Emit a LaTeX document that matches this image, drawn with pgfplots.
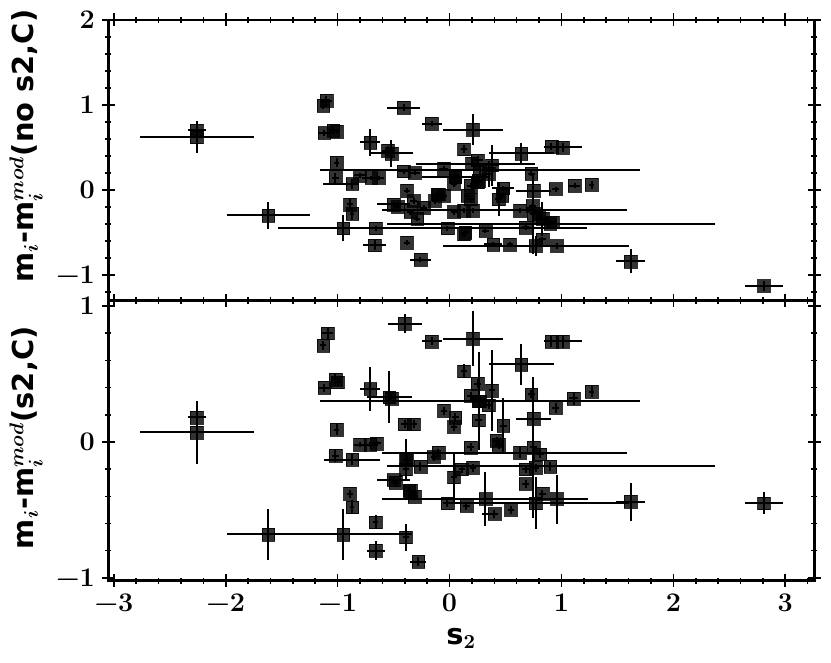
\documentclass[border=0pt]{standalone}
\usepackage[no-math]{fontspec}
\newfontfamily\dv{DejaVu Sans}
\usepackage{pgfplots}
\usepackage{pgfplotstable}
\pgfplotsset{compat=1.18}

\pgfplotstableread{
x y exm exp ey
-2.26 0.70 0.08 0.08 0.05
-2.26 0.62 0.51 0.51 0.19
-1.62 -0.30 0.37 0.37 0.16
-1.13 0.99 0.03 0.03 0.04
-1.10 1.05 0.05 0.05 0.06
-1.12 0.67 0.06 0.06 0.03
-1.04 0.70 0.04 0.04 0.04
-1.01 0.69 0.03 0.03 0.03
-1.01 0.32 0.02 0.02 0.05
-1.02 0.14 0.03 0.03 0.06
-0.87 0.07 0.26 0.06 0.06
-0.80 0.17 0.05 0.05 0.03
-0.70 0.14 0.08 0.08 0.02
-0.63 0.14 0.04 0.04 0.02
-0.41 0.97 0.15 0.15 0.04
-0.16 0.78 0.09 0.09 0.03
-0.71 0.56 0.09 0.09 0.16
-0.55 0.46 0.05 0.05 0.06
-0.52 0.43 0.19 0.19 0.16
0.21 0.71 0.27 0.27 0.18
0.13 0.48 0.03 0.03 0.05
0.64 0.43 0.29 0.29 0.12
0.91 0.51 0.06 0.06 0.04
1.01 0.50 0.17 0.17 0.05
0.25 0.35 0.05 0.05 0.05
0.38 0.29 0.06 0.06 0.24
0.27 0.24 1.43 1.43 0.05
-0.41 0.22 0.05 0.05 0.03
-0.31 0.20 0.05 0.05 0.03
-0.05 0.25 0.04 0.04 0.03
0.05 0.15 0.30 0.30 0.10
-0.38 -0.01 0.03 0.03 0.03
-0.89 -0.17 0.03 0.03 0.07
-0.87 -0.28 0.02 0.02 0.07
-0.95 -0.45 0.08 0.08 0.15
-0.02 -0.45 1.51 1.25 0.03
-0.66 -0.45 0.06 0.06 0.03
-0.67 -0.65 0.10 0.10 0.06
-0.38 -0.62 0.03 0.03 0.03
-0.26 -0.82 0.09 0.09 0.03
-0.50 -0.17 0.15 0.15 0.03
-0.46 -0.20 0.03 0.03 0.03
-0.35 -0.26 0.03 0.03 0.03
-0.29 -0.34 0.03 0.03 0.03
-0.32 -0.13 0.03 0.03 0.03
-0.23 -0.21 0.03 0.03 0.03
-0.11 -0.05 0.03 0.03 0.03
-0.05 -0.07 0.03 0.03 0.03
0.04 0.07 0.03 0.03 0.03
0.04 -0.26 0.03 0.03 0.03
0.13 -0.24 0.03 0.03 0.03
0.16 -0.07 0.03 0.03 0.03
0.13 -0.52 0.03 0.03 0.03
0.77 -0.66 0.83 0.83 0.12
0.90 -0.40 1.46 1.47 0.03
0.63 -0.24 1.23 0.96 0.03
0.95 0.01 0.03 0.03 0.03
1.12 0.05 0.05 0.05 0.03
1.27 0.06 0.02 0.02 0.05
0.75 -0.01 0.16 0.16 0.03
0.75 -0.28 0.03 0.03 0.47
0.19 0.05 0.03 0.03 0.03
0.25 0.09 0.03 0.03 0.03
0.19 -0.11 0.03 0.03 0.03
0.21 -0.24 0.03 0.03 0.03
0.44 -0.11 0.03 0.03 0.20
0.47 -0.07 0.03 0.03 0.03
0.48 0.02 0.10 0.10 0.03
0.74 -0.19 0.03 0.03 0.03
0.80 -0.30 0.03 0.03 0.03
0.83 -0.34 0.03 0.03 0.20
0.92 -0.38 0.03 0.03 0.03
0.68 -0.44 0.03 0.03 0.03
0.14 -0.50 0.03 0.03 0.03
0.32 -0.48 0.03 0.03 0.03
0.39 -0.64 0.08 0.08 0.03
0.54 -0.64 0.03 0.03 0.03
0.83 -0.58 0.03 0.03 0.03
0.96 -0.66 0.10 0.10 0.03
1.62 -0.84 0.13 0.13 0.14
2.81 -1.13 0.17 0.17 0.06
-0.13 -0.13 0.03 0.03 0.03
-0.10 -0.05 0.03 0.03 0.03
0.26 0.11 0.03 0.03 0.03
0.35 0.19 0.03 0.03 0.15
0.73 0.19 0.03 0.03 0.03
0.20 0.31 0.50 0.56 0.03
0.05 0.17 0.03 0.03 0.03
}\toptable

\pgfplotstableread{
x y exm exp ey
-2.26 0.18 0.08 0.08 0.04
-2.26 0.07 0.51 0.51 0.23
-1.62 -0.68 0.37 0.37 0.19
-1.13 0.71 0.03 0.03 0.03
-1.09 0.80 0.05 0.05 0.04
-1.12 0.40 0.05 0.05 0.03
-1.02 0.46 0.04 0.04 0.05
-1.00 0.44 0.03 0.03 0.03
-1.01 0.09 0.02 0.02 0.04
-1.02 -0.10 0.03 0.03 0.05
-0.87 -0.13 0.25 0.25 0.04
-0.80 -0.02 0.05 0.05 0.02
-0.71 -0.02 0.05 0.05 0.02
-0.65 -0.01 0.04 0.04 0.02
-0.89 -0.38 0.03 0.03 0.03
-0.87 -0.48 0.02 0.02 0.05
-0.66 -0.59 0.02 0.02 0.05
-0.95 -0.68 0.61 0.61 0.19
-0.66 -0.80 0.08 0.08 0.07
-0.71 0.39 0.09 0.09 0.16
-0.54 0.33 0.20 0.20 0.19
-0.52 0.32 0.03 0.03 0.03
0.27 0.30 1.43 1.43 0.04
-0.40 0.87 0.15 0.15 0.07
-0.40 0.13 0.03 0.03 0.03
-0.32 0.13 0.03 0.03 0.03
-0.39 -0.13 0.03 0.03 0.15
-0.39 -0.20 0.03 0.03 0.03
-0.50 -0.28 0.15 0.15 0.03
-0.48 -0.30 0.03 0.03 0.03
-0.36 -0.36 0.03 0.03 0.03
-0.31 -0.40 0.03 0.03 0.03
-0.39 -0.70 0.03 0.03 0.10
-0.28 -0.88 0.07 0.07 0.03
-0.16 0.74 0.09 0.09 0.03
0.21 0.76 0.27 0.27 0.20
0.91 0.74 0.06 0.06 0.04
1.01 0.74 0.17 0.17 0.05
0.64 0.57 0.29 0.29 0.15
0.13 0.52 0.03 0.03 0.05
0.25 0.43 0.03 0.03 0.03
0.38 0.38 0.03 0.03 0.30
0.73 0.35 0.03 0.03 0.03
1.11 0.32 0.04 0.04 0.05
1.27 0.37 0.02 0.02 0.04
0.95 0.25 0.03 0.03 0.04
0.19 0.34 0.03 0.03 0.03
0.26 0.30 0.03 0.03 0.36
0.35 0.27 0.03 0.03 0.03
-0.05 0.23 0.03 0.03 0.03
0.05 0.18 0.03 0.03 0.03
0.04 0.11 0.03 0.03 0.03
0.26 0.16 0.03 0.03 0.03
0.48 0.12 0.03 0.03 0.20
0.75 0.17 0.16 0.16 0.03
0.19 -0.04 0.03 0.03 0.03
0.44 -0.02 0.03 0.03 0.03
0.42 0.01 0.03 0.03 0.03
0.63 -0.08 1.23 0.96 0.04
0.75 -0.04 0.03 0.03 0.52
0.81 -0.09 0.03 0.03 0.03
-0.10 -0.08 0.03 0.03 0.03
-0.14 -0.11 0.03 0.03 0.03
-0.38 -0.13 0.03 0.03 0.03
-0.26 -0.18 0.03 0.03 0.03
0.11 -0.20 0.03 0.03 0.03
0.21 -0.19 0.03 0.03 0.03
0.04 -0.26 0.03 0.03 0.18
0.90 -0.18 1.46 1.47 0.03
0.68 -0.20 0.03 0.03 0.03
0.77 -0.19 0.03 0.03 0.03
0.68 -0.31 0.03 0.03 0.03
-0.35 -0.36 0.03 0.03 0.03
-0.02 -0.45 0.03 0.03 0.03
0.15 -0.47 0.03 0.03 0.03
0.32 -0.42 0.92 0.92 0.20
0.40 -0.53 0.11 0.03 0.03
0.55 -0.50 0.03 0.03 0.03
0.77 -0.45 0.83 0.83 0.19
0.83 -0.38 0.03 0.03 0.03
0.96 -0.42 0.03 0.03 0.18
1.62 -0.44 0.13 0.13 0.14
2.81 -0.45 0.17 0.17 0.08
}\bottable

\pgfplotsset{
  panel/.style={
    scale only axis, width=353bp, anchor=south west,
    xmin=-3.05, xmax=3.26,
    xtick={-3,-2,-1,0,1,2,3},
    xticklabels={−3,−2,−1,0,1,2,3},
    minor xtick={-3.0,-2.8,...,3.21},
    tick align=center,
    major tick length=6.5bp, minor tick length=3bp,
    axis line style={line width=1.2bp},
    every tick/.style={line width=0.8bp, black},
    tick label style={font=\fontsize{13.5}{16}\selectfont\bfseries},
    label style={font=\fontsize{14.5}{17}\selectfont\boldmath},
  },
  pts/.style={
    only marks, mark=square*, mark size=3.2bp,
    mark options={fill=black, draw=black, fill opacity=0.8, draw opacity=0.8, line width=0.2bp},
    error bars/.cd, x dir=both, x explicit, y dir=both, y explicit,
    error bar style={line width=1bp, black}, error mark=none,
  },
}

\begin{document}
\begin{tikzpicture}
\useasboundingbox (0,0) rectangle (415.5bp,331.5bp);
\begin{axis}[panel, at={(54.15bp,181.3bp)}, height=140.2bp,
  ymin=-1.3, ymax=2, ytick={-1,0,1,2}, yticklabels={−1,0,1,2},
  minor ytick={-1.2,-1.0,...,2.01},
  xticklabels={},
  ylabel={\dv\bfseries m$_i$-m$_i^{mod}$(no s2,C)},
  ylabel style={at={(axis description cs:-0.1166,0.55)}, anchor=center}]
\addplot+[pts] table[x=x, y=y, x error minus=exm, x error plus=exp, y error=ey] {\toptable};
\end{axis}
\begin{axis}[panel, at={(54.15bp,41.2bp)}, height=140bp,
  ymin=-1.02, ymax=1.04, ytick={-1,0,1}, yticklabels={−1,0,1},
  minor ytick={-1.0,-0.8,...,1.01},
  xlabel={\dv\bfseries s$_2$},
  xlabel style={at={(axis description cs:0.5,-0.228)}, anchor=base},
  ylabel={\dv\bfseries m$_i$-m$_i^{mod}$(s2,C)},
  ylabel style={at={(axis description cs:-0.1166,0.51)}, anchor=center}]
\addplot+[pts] table[x=x, y=y, x error minus=exm, x error plus=exp, y error=ey] {\bottable};
\end{axis}
\end{tikzpicture}
\end{document}
